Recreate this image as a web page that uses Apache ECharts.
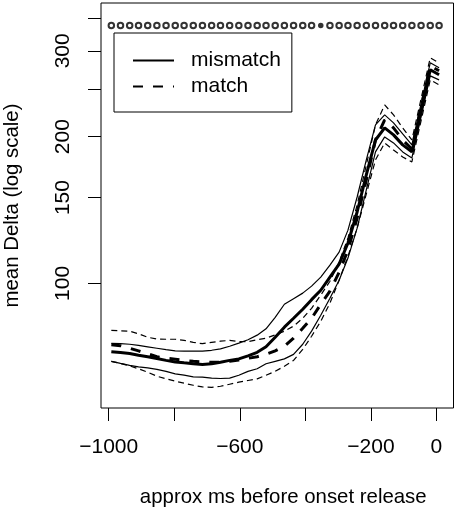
<!DOCTYPE html>
<html>
<head>
<meta charset="utf-8">
<script src="https://cdn.jsdelivr.net/npm/echarts@6/dist/echarts.min.js"></script>
<style>
  html, body { margin: 0; padding: 0; background: #fff; }
  #chart { width: 456px; height: 509px; }
</style>
</head>
<body>
<div id="chart"></div>
<script>
// time bins (approx ms before onset release)
const xs = [-992, -964, -936, -909, -881, -853, -825, -797, -770, -742, -714, -686, -659, -631, -603, -575, -547, -520, -492,
  -464, -436, -408, -381, -353, -325, -297, -270, -242, -214, -186, -158, -131, -103, -75, -47, -19, 8];

// mean Delta, mismatch condition, with upper / lower band
const mismatchMean = [72.4, 72.1, 71.8, 71.2, 70.7, 70.1, 69.5, 69.0, 68.7, 68.4, 68.2, 68.4, 68.9, 69.5, 70.0, 71.0, 72.2, 74.1, 77.5,
  81.3, 84.8, 88.5, 92.6, 96.8, 103.0, 109.5, 121.0, 140.1, 166.9, 196.9, 208.5, 201.7, 192.4, 186.1, 225.9, 274.3, 267.9];
const mismatchHi = [75.3, 75.2, 75.0, 74.6, 74.1, 73.6, 73.1, 72.7, 72.6, 72.6, 72.6, 72.9, 73.4, 74.3, 75.4, 76.6, 78.3, 80.7, 85.2,
  90.6, 93.0, 95.5, 98.7, 103.0, 109.0, 115.9, 128.6, 150.4, 179.2, 211.4, 221.7, 213.5, 202.6, 192.4, 233.5, 283.5, 276.9];
const mismatchLo = [69.2, 68.5, 67.9, 67.4, 67.1, 66.6, 66.0, 65.2, 64.8, 64.3, 64.2, 63.9, 63.8, 63.9, 64.8, 66.0, 66.8, 68.4, 69.2,
  70.0, 71.5, 75.0, 79.8, 86.0, 93.2, 101.5, 112.7, 129.8, 155.5, 186.1, 199.8, 194.2, 186.1, 180.9, 219.6, 266.6, 261.6];

// mean Delta, match condition, with upper / lower band
const matchMean = [74.8, 74.5, 73.6, 72.7, 71.7, 70.7, 70.2, 69.9, 69.5, 69.2, 69.0, 68.9, 68.9, 69.2, 69.6, 70.2, 70.7, 71.5, 72.7,
  74.3, 77.2, 80.9, 84.8, 90.6, 96.4, 105.4, 117.0, 136.2, 163.0, 196.9, 216.5, 208.5, 196.9, 188.7, 230.2, 279.6, 273.0];
const matchHi = [80.1, 79.9, 79.8, 78.8, 77.5, 76.9, 76.8, 76.8, 76.4, 75.7, 75.2, 75.7, 76.1, 76.4, 76.0, 75.9, 76.6, 77.2, 78.4,
  79.8, 81.7, 84.8, 88.9, 94.6, 101.0, 110.6, 123.9, 144.8, 175.0, 211.4, 232.4, 221.7, 208.5, 196.9, 239.1, 290.3, 283.5];
const matchLo = [69.2, 68.5, 67.7, 66.8, 65.7, 64.5, 63.7, 63.0, 62.4, 61.8, 61.3, 61.2, 61.5, 62.1, 62.7, 63.2, 63.7, 64.8, 66.0,
  67.6, 69.5, 73.2, 77.9, 83.6, 91.1, 101.5, 113.7, 129.8, 152.6, 179.2, 194.2, 187.8, 181.7, 177.5, 215.5, 261.6, 255.5];

// significance row along the top (1 = filled dot)
const sig = [0, 0, 0, 0, 0, 0, 0, 0, 0, 0, 0, 0, 0, 0, 0, 0, 0, 0, 0, 0, 0, 0, 0, 1, 0, 0, 0, 0, 0, 0, 0, 0, 0, 0, 0, 0, 0];
const sigLevel = 338;

// axis ticks / labels
const xTicks = [-1000, -800, -600, -400, -200, 0];
const xLabels = [-1000, -600, -200, 0];
const yTicks = [100, 150, 200, 250, 300, 350];
const yLabels = [100, 150, 200, 300];

const font = "'Liberation Sans', Arial, sans-serif";
const ln = Math.log;
const pts = (ys) => xs.map((x, i) => [x, ln(ys[i])]);

function lineSeries(name, ys, width, dashed) {
  return {
    name: name,
    type: "line",
    data: pts(ys),
    symbol: "none",
    showSymbol: false,
    silent: true,
    lineStyle: {
      color: "#000",
      width: width,
      type: dashed ? (width > 2 ? [10, 10] : [6, 4]) : "solid"
    },
    itemStyle: { color: "#000" },
    z: width > 2 ? 4 : 3
  };
}

const chart = echarts.init(document.getElementById("chart"), null, { renderer: "canvas" });

const option = {
  animation: false,
  backgroundColor: "#fff",
  textStyle: { fontFamily: font, color: "#000" },
  grid: {
    left: 101,
    right: 2.5,
    top: 3,
    bottom: 101,
    show: true,
    borderColor: "#000",
    borderWidth: 1,
    backgroundColor: "transparent",
    outerBoundsMode: "none"
  },
  legend: {
    data: ["mismatch", "match"],
    left: 114,
    top: 33,
    orient: "vertical",
    itemWidth: 41,
    itemHeight: 14,
    itemGap: 5,
    padding: [17, 11, 15, 18],
    borderColor: "#000",
    borderWidth: 1,
    backgroundColor: "#fff",
    selectedMode: false,
    itemStyle: { opacity: 0 },
    textStyle: { fontFamily: font, fontSize: 21, color: "#000", padding: [0, 0, 0, 12] }
  },
  xAxis: {
    type: "value",
    min: -1023.5,
    max: 52,
    name: "approx ms before onset release",
    nameLocation: "middle",
    nameGap: 79,
    nameMoveOverlap: false,
    nameTextStyle: { fontFamily: font, fontSize: 20.4, color: "#000", padding: [0, 0, 0, 12] },
    axisLine: { show: false, onZero: false },
    splitLine: { show: false },
    axisTick: {
      show: true,
      length: 13,
      customValues: xTicks,
      lineStyle: { color: "#000", width: 1 }
    },
    axisLabel: {
      customValues: xLabels,
      margin: 29,
      fontFamily: font,
      fontSize: 21,
      color: "#000",
      formatter: (v) => (v < 0 ? "\u2212" + Math.abs(v) : String(v))
    }
  },
  yAxis: {
    type: "value",
    min: ln(55.5),
    max: ln(376.1),
    name: "mean Delta (log scale)",
    nameLocation: "middle",
    nameGap: 79,
    nameMoveOverlap: false,
    nameTextStyle: { fontFamily: font, fontSize: 20.4, color: "#000" },
    axisLine: { show: false, onZero: false },
    splitLine: { show: false },
    axisTick: {
      show: true,
      length: 13,
      customValues: yTicks.map(ln),
      lineStyle: { color: "#000", width: 1 }
    },
    axisLabel: {
      customValues: yLabels.map(ln),
      rotate: 90,
      margin: 27,
      fontFamily: font,
      fontSize: 21,
      color: "#000",
      formatter: (v) => String(Math.round(Math.exp(v)))
    }
  },
  series: [
    lineSeries("mismatch hi", mismatchHi, 1.2, false),
    lineSeries("mismatch lo", mismatchLo, 1.2, false),
    lineSeries("match hi", matchHi, 1.2, true),
    lineSeries("match lo", matchLo, 1.2, true),
    lineSeries("match", matchMean, 3, true),
    lineSeries("mismatch", mismatchMean, 3, false),
    {
      name: "n.s.",
      type: "scatter",
      silent: true,
      symbol: "emptyCircle",
      symbolSize: 5.5,
      itemStyle: { color: "#000", borderColor: "#000", borderWidth: 1 },
      data: xs.filter((x, i) => !sig[i]).map((x) => [x, ln(sigLevel)])
    },
    {
      name: "sig",
      type: "scatter",
      silent: true,
      symbol: "circle",
      symbolSize: 5.5,
      itemStyle: { color: "#000" },
      data: xs.filter((x, i) => sig[i]).map((x) => [x, ln(sigLevel)])
    }
  ]
};

chart.setOption(option);
</script>
</body>
</html>
